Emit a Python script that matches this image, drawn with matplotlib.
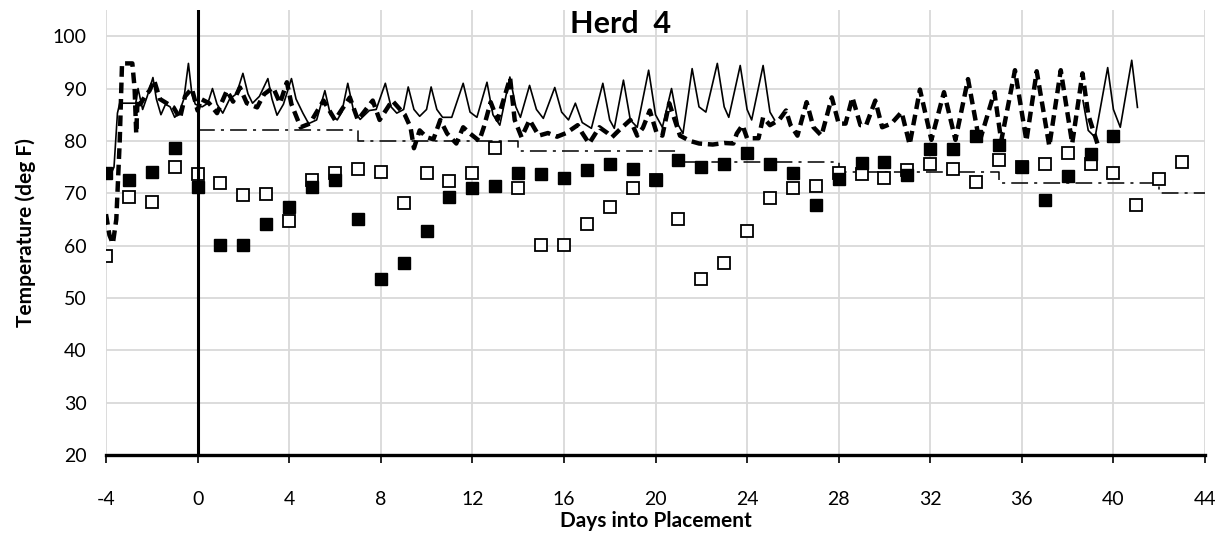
import numpy as np
import matplotlib
matplotlib.use("Agg")
import matplotlib.pyplot as plt

plt.rcParams['font.family'] = ['Lato', 'DejaVu Sans']
plt.rcParams['axes.unicode_minus'] = False

# Daily markers
filled_days = list(range(-4, 41))
filled_temps = [73.8, 72.5, 74.0, 78.6, 71.2, 60.1, 60.2, 64.2, 67.3, 71.2,
                72.5, 65.0, 53.7, 56.6, 62.7, 69.2, 71.0, 71.4, 73.8, 73.6,
                72.9, 74.4, 75.5, 74.6, 72.5, 76.3, 75.0, 75.5, 77.6, 75.5,
                73.8, 67.7, 72.7, 75.7, 75.9, 73.5, 78.4, 78.5, 81.0, 79.3,
                75.0, 68.8, 73.3, 77.4, 80.9]

open_days = list(range(-4, 44))
open_temps = [58.0, 69.2, 68.3, 75.1, 73.6, 71.9, 69.6, 69.8, 64.7, 72.5,
              73.8, 74.6, 74.0, 68.1, 73.8, 72.4, 73.8, 78.7, 71.0, 60.1,
              60.2, 64.2, 67.3, 71.0, 72.5, 65.0, 53.7, 56.6, 62.7, 69.1,
              71.0, 71.4, 73.8, 73.6, 72.9, 74.4, 75.5, 74.6, 72.1, 76.3,
              75.0, 75.5, 77.6, 75.5, 73.8, 67.7, 72.7, 75.9]

# Set point (steps every week)
setpoint_days = [0, 7, 14, 21, 28, 35, 42, 44]
setpoint_temps = [82, 80, 78, 76, 74, 72, 70, 70]

# Solid logger trace
solid_days = [-4.0, -3.8, -3.65, -3.5, -3.4, -2.7, -2.6, -2.4, -2.2, -1.95,
              -1.8, -1.6, -1.4, -1.2, -1.0, -0.8, -0.6, -0.4, -0.25, -0.1,
              0.2, 0.45, 0.65, 0.85, 1.1, 1.4, 1.7, 1.98, 2.2, 2.4,
              2.7, 3.07, 3.25, 3.47, 3.75, 4.1, 4.3, 4.6, 4.85, 5.2,
              5.56, 5.8, 6.1, 6.3, 6.56, 6.8, 7.1, 7.5, 7.8, 8.2,
              8.45, 8.7, 9.0, 9.2, 9.45, 9.7, 10.0, 10.2, 10.45, 10.7,
              11.1, 11.6, 11.9, 12.2, 12.64, 12.9, 13.2, 13.64, 13.9, 14.1,
              14.5, 14.8, 15.1, 15.6, 15.9, 16.2, 16.5, 16.8, 17.2, 17.7,
              18.0, 18.2, 18.6, 18.9, 19.2, 19.7, 20.0, 20.3, 20.7, 21.0,
              21.2, 21.6, 21.9, 22.2, 22.7, 23.0, 23.2, 23.7, 24.0, 24.2,
              24.7, 25.0, 25.2, 25.3,
              38.67, 38.9, 39.2, 39.75, 40.0, 40.3, 40.8, 40.95, 41.05]
solid_temps = [73.8, 73.5, 75.0, 85.3, 87.2, 87.2, 90.0, 86.0, 88.5, 92.1,
               88.0, 85.0, 87.0, 86.5, 84.5, 85.5, 88.0, 94.8, 89.0, 87.0,
               86.5, 87.2, 90.0, 87.0, 85.3, 88.0, 89.0, 92.9, 89.0, 87.2,
               88.5, 91.9, 88.0, 84.9, 87.0, 91.9, 88.0, 85.3, 83.3, 84.0,
               89.6, 85.0, 84.0, 85.5, 91.0, 86.0, 84.1, 85.8, 86.0, 91.0,
               86.5, 85.3, 86.0, 90.3, 86.0, 84.7, 86.0, 90.3, 86.0, 84.5,
               84.5, 91.0, 85.5, 84.5, 91.2, 85.0, 83.0, 92.2, 86.5, 84.5,
               90.6, 86.0, 84.3, 90.2, 85.5, 84.0, 87.2, 83.5, 82.4, 91.0,
               84.0, 82.4, 91.6, 84.0, 82.6, 93.5, 85.0, 82.6, 90.0, 83.0,
               81.4, 93.8, 86.5, 85.5, 94.8, 86.5, 84.5, 94.4, 86.0, 84.0,
               94.4, 85.5, 84.0, np.nan,
               87.7, 82.0, 80.7, 94.0, 86.0, 82.6, 95.4, 90.0, 86.4]

# Dashed logger trace
dashed_days = [-4.0, -3.85, -3.7, -3.55, -3.4, -3.3, -2.85, -2.75, -2.68, -2.62,
               -2.5, -2.3, -2.1, -1.9, -1.65, -1.35, -1.05, -0.77, -0.55, -0.25,
               0.0, 0.15, 0.5, 0.85, 1.28, 1.55, 1.85, 2.15, 2.6, 2.9,
               3.3, 3.6, 3.9, 4.1, 4.5, 4.9, 5.5, 6.0, 6.65, 7.0,
               7.65, 7.95, 8.5, 9.05, 9.3, 9.45, 9.7, 10.0, 10.3, 10.6,
               10.9, 11.3, 11.6, 11.9, 12.3, 12.5, 12.8, 13.1, 13.65, 13.85,
               14.15, 14.5, 14.9, 15.3, 15.7, 16.1, 16.6, 16.8, 17.1, 17.55,
               17.9, 18.1, 18.4, 18.9, 19.2, 19.45, 19.75, 20.05, 20.3, 20.6,
               21.07, 21.5, 21.9, 22.5, 23.0, 23.4, 23.55, 23.8, 24.0, 24.5,
               24.7, 25.0, 25.4, 25.7, 25.9, 26.2, 26.6, 26.9, 27.25, 27.7,
               28.0, 28.3, 28.6, 28.95, 29.2, 29.6, 29.9, 30.3, 30.75, 31.1,
               31.55, 32.05, 32.6, 33.1, 33.65, 34.15, 34.8, 35.1, 35.7, 36.2,
               36.65, 37.2, 37.7, 38.2, 38.65, 38.9, 39.3]
dashed_temps = [66.0, 62.0, 60.4, 65.0, 80.0, 94.8, 94.8, 90.0, 81.4, 88.0,
                87.0, 88.5, 89.6, 91.6, 88.0, 87.2, 86.4, 84.3, 88.5, 90.0,
                85.8, 88.0, 87.2, 85.3, 89.6, 87.5, 90.2, 87.2, 86.4, 88.9,
                90.2, 87.2, 91.2, 87.0, 82.6, 83.3, 87.7, 84.0, 88.3, 84.0,
                87.7, 84.0, 87.7, 85.0, 82.6, 78.6, 82.0, 80.7, 80.3, 84.0,
                81.4, 79.5, 82.6, 81.4, 80.0, 82.6, 87.4, 84.0, 92.0, 84.0,
                80.7, 84.0, 81.0, 81.5, 80.8, 81.5, 83.0, 81.5, 79.5, 82.6,
                81.5, 80.7, 82.0, 84.0, 81.0, 82.5, 85.8, 81.5, 81.0, 87.2,
                81.0, 80.0, 79.5, 79.3, 79.6, 79.5, 81.4, 83.0, 80.5, 80.5,
                84.5, 83.0, 84.0, 85.8, 83.0, 81.0, 87.4, 82.6, 81.0, 88.3,
                83.3, 83.3, 88.3, 83.0, 83.0, 87.7, 82.6, 83.3, 85.5, 79.3,
                89.8, 80.2, 89.3, 80.2, 91.8, 79.8, 89.3, 80.0, 93.5, 80.0,
                93.3, 79.0, 93.5, 79.5, 92.9, 85.0, 79.5]

fig = plt.figure(figsize=(12.28, 5.42), dpi=100)
ax = fig.add_axes([106 / 1228, 87 / 542, 1099 / 1228, 445 / 542])

ax.plot(solid_days, solid_temps, color='black', lw=1.2, zorder=3)
ax.plot(dashed_days, dashed_temps, color='black', lw=3.2, dashes=(2.4, 1.3), zorder=3)
ax.plot(setpoint_days, setpoint_temps, color='black', lw=1.1, drawstyle='steps-post',
        dashes=(11, 4, 2, 4), zorder=3)
ax.plot(open_days, open_temps, 's', ms=8, mfc='white', mec='black', mew=1.3,
        linestyle='none', zorder=4)
ax.plot(filled_days, filled_temps, 's', ms=8.5, color='black', linestyle='none', zorder=5)

ax.axvline(0, color='black', lw=2.2, zorder=6)

ax.set_xlim(-4, 44)
ax.set_ylim(20, 105)
ax.set_xticks(range(-4, 45, 4))
ax.set_yticks(range(20, 101, 10))
ax.grid(True, color='#d9d9d9', lw=1.3)
ax.set_axisbelow(True)

for side in ['top', 'right', 'left']:
    ax.spines[side].set_visible(False)
ax.spines['bottom'].set_linewidth(2.4)
ax.spines['bottom'].set_color('black')

ax.tick_params(axis='x', length=6, width=1.2, direction='out', pad=20, labelsize=14)
ax.tick_params(axis='y', length=0, pad=14, labelsize=14)

ax.set_xlabel('Days into Placement', fontsize=15, fontweight='bold', labelpad=2)
ax.set_ylabel('Temperature (deg F)', fontsize=15, fontweight='bold', labelpad=12)
fig.text(621 / 1228, 1 - 24 / 542, 'Herd  4', fontsize=22, fontweight='bold',
         ha='center', va='center')

fig.savefig('out.png', dpi=100)
